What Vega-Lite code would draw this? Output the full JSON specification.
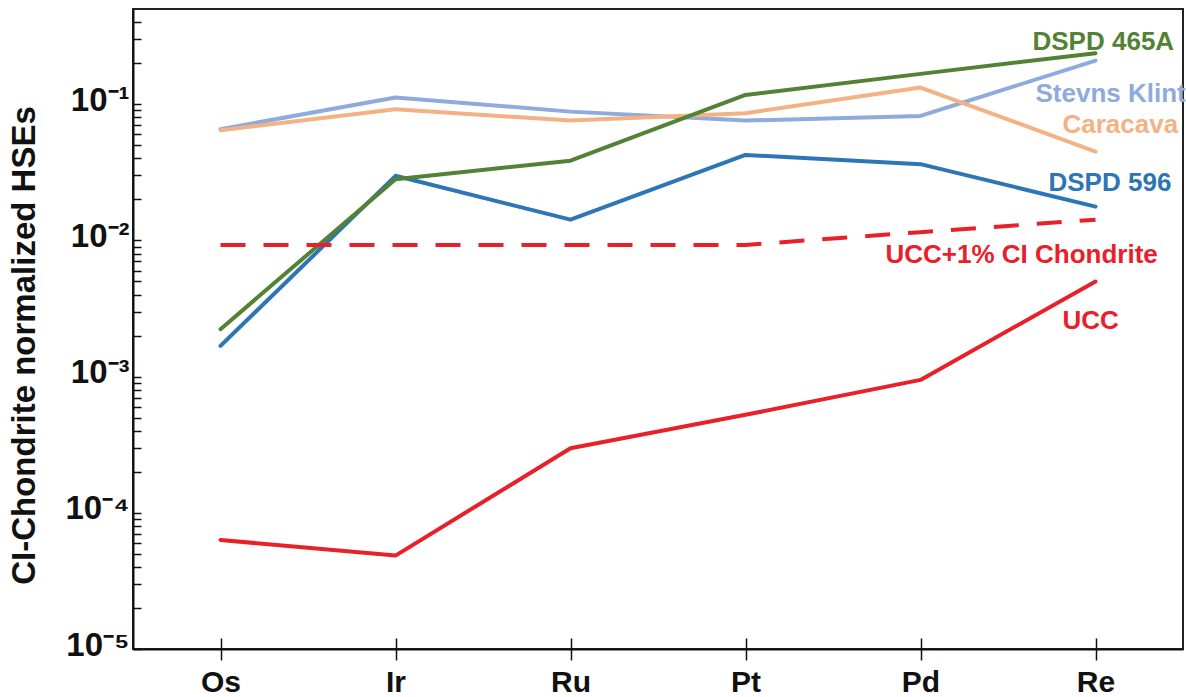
{
  "$schema": "https://vega.github.io/schema/vega-lite/v6.json",
  "width": 1050,
  "height": 640,
  "autosize": {"type": "none"},
  "padding": {"left": 133, "top": 9, "right": 3, "bottom": 48},
  "background": "white",
  "config": {
    "view": {"stroke": "#222", "strokeWidth": 2},
    "axis": {"grid": false, "domainColor": "#111", "tickColor": "#111", "labelColor": "#111", "titleColor": "#111", "labelFont": "Liberation Sans", "titleFont": "Liberation Sans", "labelFontWeight": "bold", "titleFontWeight": "bold"},
    "text": {"font": "Liberation Sans", "fontWeight": "bold"}
  },
  "datasets": {
    "hse": [
      {"series": "Stevns Klint", "element": "Os", "value": 0.0655},
      {"series": "Stevns Klint", "element": "Ir", "value": 0.112},
      {"series": "Stevns Klint", "element": "Ru", "value": 0.0882},
      {"series": "Stevns Klint", "element": "Pt", "value": 0.0758},
      {"series": "Stevns Klint", "element": "Pd", "value": 0.082},
      {"series": "Stevns Klint", "element": "Re", "value": 0.209},
      {"series": "Caracava", "element": "Os", "value": 0.0644},
      {"series": "Caracava", "element": "Ir", "value": 0.0919},
      {"series": "Caracava", "element": "Ru", "value": 0.0758},
      {"series": "Caracava", "element": "Pt", "value": 0.0859},
      {"series": "Caracava", "element": "Pd", "value": 0.1325},
      {"series": "Caracava", "element": "Re", "value": 0.0449},
      {"series": "DSPD 596", "element": "Os", "value": 0.00168},
      {"series": "DSPD 596", "element": "Ir", "value": 0.0298},
      {"series": "DSPD 596", "element": "Ru", "value": 0.0142},
      {"series": "DSPD 596", "element": "Pt", "value": 0.0424},
      {"series": "DSPD 596", "element": "Pd", "value": 0.0363},
      {"series": "DSPD 596", "element": "Re", "value": 0.0177},
      {"series": "DSPD 465A", "element": "Os", "value": 0.00223},
      {"series": "DSPD 465A", "element": "Ir", "value": 0.0281},
      {"series": "DSPD 465A", "element": "Ru", "value": 0.0385},
      {"series": "DSPD 465A", "element": "Pt", "value": 0.117},
      {"series": "DSPD 465A", "element": "Pd", "value": 0.167},
      {"series": "DSPD 465A", "element": "Re", "value": 0.237},
      {"series": "UCC", "element": "Os", "value": 0.0000632},
      {"series": "UCC", "element": "Ir", "value": 0.0000485},
      {"series": "UCC", "element": "Ru", "value": 0.000298},
      {"series": "UCC", "element": "Pt", "value": 0.000524},
      {"series": "UCC", "element": "Pd", "value": 0.000946},
      {"series": "UCC", "element": "Re", "value": 0.00499},
      {"series": "UCC+1% CI Chondrite", "element": "Os", "value": 0.00927},
      {"series": "UCC+1% CI Chondrite", "element": "Ir", "value": 0.00927},
      {"series": "UCC+1% CI Chondrite", "element": "Ru", "value": 0.00927},
      {"series": "UCC+1% CI Chondrite", "element": "Pt", "value": 0.00927},
      {"series": "UCC+1% CI Chondrite", "element": "Pd", "value": 0.0115},
      {"series": "UCC+1% CI Chondrite", "element": "Re", "value": 0.0142}
    ]
  },
  "layer": [
    {
      "data": {"name": "hse"},
      "encoding": {
        "x": {"field": "element", "type": "nominal", "scale": {"type": "point", "domain": ["Os", "Ir", "Ru", "Pt", "Pd", "Re"], "padding": 0.5},
          "axis": {"title": null, "labelAngle": 0, "tickSize": 11, "tickWidth": 1.5, "domainWidth": 2, "labelFontSize": 30, "labelPadding": 31, "labelBaseline": "alphabetic"}},
        "y": {"field": "value", "type": "quantitative", "scale": {"type": "log", "domain": [0.00001, 0.5], "nice": false},
          "axis": {"title": "CI-Chondrite normalized HSEs", "titleFontSize": 33, "titleX": -99, "titleY": 336, "titleAngle": -90, "titleAlign": "center", "titleBaseline": "alphabetic",
            "values": [0.00001, 0.00002, 0.00003, 0.00004, 0.00005, 0.00006, 0.00007, 0.00008, 0.00009, 0.0001, 0.0002, 0.0003, 0.0004, 0.0005, 0.0006, 0.0007, 0.0008, 0.0009, 0.001, 0.002, 0.003, 0.004, 0.005, 0.006, 0.007, 0.008, 0.009, 0.01, 0.02, 0.03, 0.04, 0.05, 0.06, 0.07, 0.08, 0.09, 0.1, 0.2, 0.3, 0.4],
            "labelExpr": "abs(log(datum.value)/LN10 - round(log(datum.value)/LN10)) < 0.001 ? '10⁻' + ['⁰','¹','²','³','⁴','⁵'][-round(log(datum.value)/LN10)] : ''",
            "labelOverlap": false, "labelBound": false, "labelFontSize": 33, "labelPadding": 12, "labelBaseline": "alphabetic", "labelOffset": 6,
            "tickSize": -8, "tickWidth": 1.5, "domainWidth": 2}}
      },
      "layer": [
        {
          "transform": [{"filter": "datum.series !== 'UCC+1% CI Chondrite'"}],
          "mark": {"type": "line", "strokeWidth": 4, "strokeCap": "round", "strokeJoin": "round"},
          "encoding": {
            "color": {"field": "series", "type": "nominal", "legend": null,
              "scale": {"domain": ["Stevns Klint", "Caracava", "DSPD 596", "DSPD 465A", "UCC"], "range": ["#8FAADC", "#F4B183", "#2E75B6", "#548235", "#E8202A"]}}
          }
        },
        {
          "transform": [{"filter": "datum.series === 'DSPD 465A' && datum.element === 'Re'"}],
          "mark": {"type": "text", "align": "left", "baseline": "alphabetic", "dx": -63, "dy": -3, "fontSize": 26, "color": "#548235"},
          "encoding": {"text": {"field": "series"}}
        },
        {
          "transform": [{"filter": "datum.series === 'Stevns Klint' && datum.element === 'Re'"}],
          "mark": {"type": "text", "align": "left", "baseline": "alphabetic", "dx": -60, "dy": 41, "fontSize": 26, "color": "#8FAADC"},
          "encoding": {"text": {"field": "series"}}
        },
        {
          "transform": [{"filter": "datum.series === 'Caracava' && datum.element === 'Re'"}],
          "mark": {"type": "text", "align": "left", "baseline": "alphabetic", "dx": -33, "dy": -19, "fontSize": 26, "color": "#F4B183"},
          "encoding": {"text": {"field": "series"}}
        },
        {
          "transform": [{"filter": "datum.series === 'DSPD 596' && datum.element === 'Re'"}],
          "mark": {"type": "text", "align": "left", "baseline": "alphabetic", "dx": -47, "dy": -16, "fontSize": 26, "color": "#2E75B6"},
          "encoding": {"text": {"field": "series"}}
        },
        {
          "transform": [{"filter": "datum.series === 'UCC+1% CI Chondrite' && datum.element === 'Re'"}],
          "mark": {"type": "text", "align": "left", "baseline": "alphabetic", "dx": -210, "dy": 43, "fontSize": 26, "color": "#E8202A"},
          "encoding": {"text": {"field": "series"}}
        },
        {
          "transform": [{"filter": "datum.series === 'UCC' && datum.element === 'Re'"}],
          "mark": {"type": "text", "align": "left", "baseline": "alphabetic", "dx": -33, "dy": 47, "fontSize": 26, "color": "#E8202A"},
          "encoding": {"text": {"field": "series"}}
        }
      ]
    },
    {
      "data": {"name": "hse"},
      "transform": [{"filter": "datum.series === 'UCC+1% CI Chondrite'"}],
      "mark": {"type": "line", "strokeWidth": 4, "strokeDash": [25, 18], "color": "#E8202A"},
      "encoding": {
        "x": {"field": "element", "type": "nominal", "scale": {"type": "point", "domain": ["Os", "Ir", "Ru", "Pt", "Pd", "Re"], "padding": 0.5},
          "axis": {"orient": "bottom", "title": null, "domain": false, "labels": false, "tickSize": -11, "tickWidth": 1.5}},
        "y": {"field": "value", "type": "quantitative"}
      }
    }
  ],
  "resolve": {"scale": {"x": "independent"}, "axis": {"x": "independent"}}
}
